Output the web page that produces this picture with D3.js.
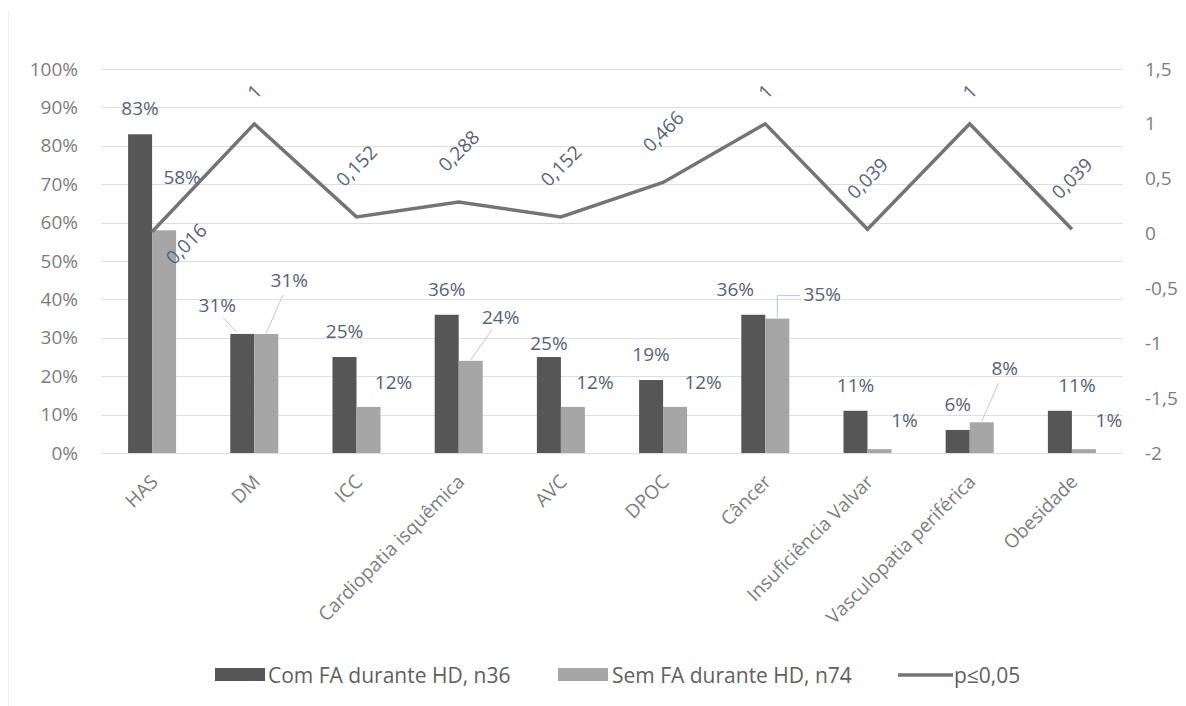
<!DOCTYPE html>
<html>
<head>
<meta charset="utf-8">
<script src="https://cdn.jsdelivr.net/npm/d3@7"></script>
<style>
  body { margin: 0; background: #fff; }
  svg text { font-family: "Open Sans", sans-serif; }
</style>
</head>
<body>
<div id="chart"></div>
<script>
// data
const categories = ["HAS", "DM", "ICC", "Cardiopatia isquêmica", "AVC", "DPOC",
                    "Câncer", "Insuficiência Valvar", "Vasculopatia periférica", "Obesidade"];
const comFA = [0.83, 0.31, 0.25, 0.36, 0.25, 0.19, 0.36, 0.11, 0.06, 0.11];
const semFA = [0.58, 0.31, 0.12, 0.24, 0.12, 0.12, 0.35, 0.01, 0.08, 0.01];
const pValues = [0.016, 1, 0.152, 0.288, 0.152, 0.466, 1, 0.039, 1, 0.039];
const leftTicks = [0, 0.1, 0.2, 0.3, 0.4, 0.5, 0.6, 0.7, 0.8, 0.9, 1];
const rightTicks = [-2, -1.5, -1, -0.5, 0, 0.5, 1, 1.5];
const seriesNames = ["Com FA durante HD, n36", "Sem FA durante HD, n74", "p≤0,05"];

// label nudges (layout only), [dx, dy] from default spot
const darkNudge = [[0,0],[-25,-3],[0,0],[0,0],[0,12],[0,0],[-18,0],[0,0],[0,0],[17,0]];
const lightNudge = [[-7,-28],[-2,-29],[0,0],[5,-19],[-3,0],[3,0],[20,0],[0,-4],[-2,-29],[0,-4]];
const lightLeader = [false, true, false, true, false, false, "elbow", false, true, false];

const width = 1186, height = 706;
const plotLeft = 101, plotRight = 1123, plotTop = 69, plotBottom = 453;

const dark = "#565656", light = "#a6a6a6", lineCol = "#747474";
const labelCol = "#56627a";
const fs = "19px";

const svg = d3.select("#chart").append("svg")
    .attr("width", width)
    .attr("height", height);

// faint frame edge on the left
svg.append("line")
    .attr("x1", 8.5).attr("x2", 8.5).attr("y1", 10).attr("y2", 706)
    .attr("stroke", "#efefef");

const x = d3.scaleBand().domain(categories).range([plotLeft, plotRight])
    .paddingInner(0.53).paddingOuter(0.265);
const x1 = d3.scaleBand().domain([0, 1]).range([0, x.bandwidth()]);
const y = d3.scaleLinear().domain([0, 1]).range([plotBottom, plotTop]);
const y2 = d3.scaleLinear().domain([-2, 1.5]).range([plotBottom, plotTop]);

const comma = v => String(v).replace(".", ",");

// gridlines
svg.append("g")
  .selectAll("line")
  .data(leftTicks)
  .enter()
  .append("line")
    .attr("x1", plotLeft).attr("x2", plotRight)
    .attr("y1", d => Math.round(y(d)) + 0.5)
    .attr("y2", d => Math.round(y(d)) + 0.5)
    .attr("stroke", "#dedede")
    .attr("stroke-width", 1);

// left axis
const yAxis = svg.append("g")
    .attr("transform", `translate(${plotLeft - 23},0)`)
    .call(d3.axisLeft(y).tickValues(leftTicks).tickSize(0).tickFormat(d3.format(".0%")));
yAxis.select(".domain").remove();
yAxis.selectAll("text")
    .attr("x", 0)
    .style("font-size", fs)
    .attr("fill", "#7d7d7d");

// right axis
const y2Axis = svg.append("g")
    .attr("transform", `translate(${plotRight + 22},0)`)
    .call(d3.axisRight(y2).tickValues(rightTicks).tickSize(0).tickFormat(comma));
y2Axis.select(".domain").remove();
y2Axis.selectAll("text")
    .attr("x", 0)
    .style("font-size", fs)
    .attr("fill", "#7d7d7d");

// x labels
svg.append("g")
  .selectAll("text")
  .data(categories)
  .enter()
  .append("text")
    .attr("transform", d => `translate(${x(d) + x.bandwidth() / 2 + 7},${plotBottom + 30}) rotate(-45)`)
    .attr("text-anchor", "end")
    .style("font-size", fs)
    .attr("fill", "#7d7d7d")
    .text(d => d);

// bars
const groups = svg.append("g")
  .selectAll("g")
  .data(categories)
  .enter()
  .append("g")
    .attr("transform", d => `translate(${x(d)},0)`);

groups.append("rect")
    .attr("x", x1(0))
    .attr("width", x1.bandwidth())
    .attr("y", (d, i) => y(comFA[i]))
    .attr("height", (d, i) => plotBottom - y(comFA[i]))
    .attr("fill", dark);

groups.append("rect")
    .attr("x", x1(1))
    .attr("width", x1.bandwidth())
    .attr("y", (d, i) => y(semFA[i]))
    .attr("height", (d, i) => plotBottom - y(semFA[i]))
    .attr("fill", light);

// bar labels
const pct = d3.format(".0%");
const barLabels = svg.append("g");

categories.forEach(function(c, i) {
    const cx0 = x(c) + x1(0) + x1.bandwidth() / 2;
    const cx1 = x(c) + x1(1) + x1.bandwidth() / 2;
    const t0 = y(comFA[i]), t1 = y(semFA[i]);

    const lx0 = cx0 + darkNudge[i][0], ly0 = t0 - 26 + darkNudge[i][1];
    const lx1 = cx1 + 25 + lightNudge[i][0], ly1 = t1 - 25 + lightNudge[i][1];

    if (i === 1) {
        barLabels.append("line")
            .attr("x1", cx0 - 6).attr("y1", t0 - 2)
            .attr("x2", lx0 + 6).attr("y2", ly0 + 13)
            .attr("stroke", "#c8c8c8").attr("stroke-width", 1);
    }
    if (lightLeader[i] === true) {
        const dx = cx1 - lx1, dy = t1 - ly1, len = Math.sqrt(dx * dx + dy * dy);
        barLabels.append("line")
            .attr("x1", cx1).attr("y1", t1 - 1)
            .attr("x2", lx1 + dx / len * 16).attr("y2", ly1 + dy / len * 16)
            .attr("stroke", "#c8c8c8").attr("stroke-width", 1);
    } else if (lightLeader[i] === "elbow") {
        barLabels.append("path")
            .attr("d", `M${cx1},${t1 - 1}V${ly1 + 2}H${lx1 - 22}`)
            .attr("fill", "none")
            .attr("stroke", "#b8c4d4").attr("stroke-width", 1);
    }

    barLabels.append("text")
        .attr("x", lx0).attr("y", ly0)
        .attr("text-anchor", "middle")
        .attr("dominant-baseline", "central")
        .style("font-size", fs)
        .attr("fill", labelCol)
        .text(pct(comFA[i]));

    barLabels.append("text")
        .attr("x", lx1).attr("y", ly1)
        .attr("text-anchor", "middle")
        .attr("dominant-baseline", "central")
        .style("font-size", fs)
        .attr("fill", labelCol)
        .text(pct(semFA[i]));
});

// p line
const line = d3.line()
    .x((d, i) => x(categories[i]) + x.bandwidth() / 2)
    .y(d => y2(d));

svg.append("path")
    .datum(pValues)
    .attr("d", line)
    .attr("fill", "none")
    .attr("stroke", lineCol)
    .attr("stroke-width", 3.5)
    .attr("stroke-linejoin", "miter");

// p labels, rotated
svg.append("g")
  .selectAll("text")
  .data(pValues)
  .enter()
  .append("text")
    .style("font-size", fs)
    .attr("fill", labelCol)
    .attr("text-anchor", "middle")
    .attr("dominant-baseline", "central")
    .text(d => comma(d))
    .each(function(d, i) {
        const w = this.getComputedTextLength();
        const px = x(categories[i]) + x.bandwidth() / 2;
        const py = y2(d);
        let cx = px, cy = py - (18 + (w / 2 + 9));
        if (i === 0) { cx = px + 34; cy = py + 12; }
        d3.select(this).attr("transform", `translate(${cx},${cy}) rotate(-45)`);
    });

// legend
const legend = svg.append("g").attr("transform", "translate(0,675)");
legend.append("rect").attr("x", 215).attr("y", -7).attr("width", 50).attr("height", 13).attr("fill", dark);
legend.append("rect").attr("x", 558).attr("y", -7).attr("width", 50).attr("height", 13).attr("fill", light);
legend.append("line").attr("x1", 898).attr("x2", 953).attr("y1", 0).attr("y2", 0)
    .attr("stroke", lineCol).attr("stroke-width", 3.5);

legend.selectAll("text")
  .data(seriesNames)
  .enter()
  .append("text")
    .attr("x", (d, i) => [268, 612, 954][i])
    .attr("y", 0)
    .attr("dominant-baseline", "central")
    .style("font-size", "21px")
    .attr("fill", "#5f5f5f")
    .text(d => d);
</script>
</body>
</html>
